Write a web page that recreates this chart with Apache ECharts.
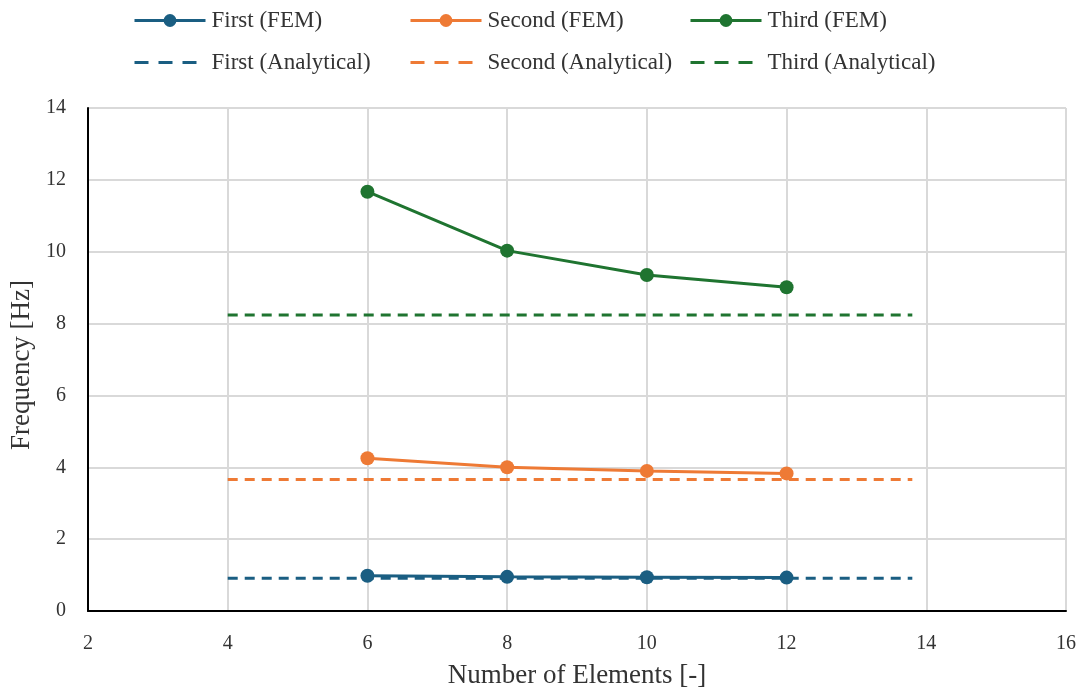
<!DOCTYPE html>
<html>
<head>
<meta charset="utf-8">
<script src="https://cdn.jsdelivr.net/npm/echarts@6/dist/echarts.min.js"></script>
<style>html,body{margin:0;padding:0;background:#fff}#c{width:1080px;height:690px}</style>
</head>
<body>
<div id="c"></div>
<script>
const elements = [6, 8, 10, 12];
const firstFEM = [0.98, 0.95, 0.94, 0.93];
const secondFEM = [4.25, 4.0, 3.9, 3.83];
const thirdFEM = [11.67, 10.03, 9.35, 9.01];
const analyticalX = [4, 13.8];
const firstAnalytical = 0.91;
const secondAnalytical = 3.66;
const thirdAnalytical = 8.24;
const xTicks = [2, 4, 6, 8, 10, 12, 14, 16];
const yTicks = [0, 2, 4, 6, 8, 10, 12, 14];

const cBlue = '#1a5e82', cOrange = '#ee7a35', cGreen = '#1f7430';
const font = 'Liberation Serif, Times New Roman, serif';

function fem(name, vals, color) {
  return {
    name, type: 'line', data: elements.map((x, i) => [x, vals[i]]),
    symbol: 'circle', symbolSize: 14, color,
    lineStyle: { width: 3, color }, itemStyle: { color }, z: 3
  };
}
function ana(name, v, color) {
  return {
    name, type: 'line', data: analyticalX.map(x => [x, v]),
    symbol: 'none', color,
    lineStyle: { width: 3, color, type: [10, 7] }, z: 2
  };
}
const legendNames = [
  ['First (FEM)', 133, 9, false], ['Second (FEM)', 409, 9, false], ['Third (FEM)', 689, 9, false],
  ['First (Analytical)', 133, 51, true], ['Second (Analytical)', 409, 51, true], ['Third (Analytical)', 689, 51, true]
];
const chart = echarts.init(document.getElementById('c'), null, { renderer: 'canvas' });
chart.setOption({
  animation: false,
  textStyle: { fontFamily: font },
  legend: legendNames.map(([n, l, t, dashed]) => ({
    data: [n], left: l, top: t, padding: 0, itemWidth: 71, itemHeight: 16, itemGap: 0,
    itemStyle: dashed ? { opacity: 0 } : {},
    lineStyle: dashed ? { type: [14, 10], width: 3 } : { width: 3 },
    textStyle: { fontFamily: font, fontSize: 23, color: '#333', padding: [0, 0, 0, 1] }
  })),
  grid: { left: 88, right: 14, top: 108, bottom: 79, outerBoundsMode: 'none', containLabel: false },
  xAxis: {
    type: 'value', min: xTicks[0], max: xTicks[xTicks.length - 1], interval: 2,
    name: 'Number of Elements [-]', nameLocation: 'middle', nameGap: 51,
    nameTextStyle: { fontFamily: font, fontSize: 27, color: '#333' },
    axisLine: { show: true, lineStyle: { color: '#000', width: 2 } },
    axisTick: { show: false },
    axisLabel: { fontFamily: font, fontSize: 20, color: '#333', margin: 23 },
    splitLine: { show: true, lineStyle: { color: '#d9d9d9', width: 2 } }
  },
  yAxis: {
    type: 'value', min: yTicks[0], max: yTicks[yTicks.length - 1], interval: 2,
    name: 'Frequency [Hz]', nameLocation: 'middle', nameGap: 49,
    nameTextStyle: { fontFamily: font, fontSize: 27, color: '#333', padding: [0, 11, 0, 0] },
    axisLine: { show: true, lineStyle: { color: '#000', width: 2 } },
    axisTick: { show: false },
    axisLabel: { fontFamily: font, fontSize: 20, color: '#333', margin: 22 },
    splitLine: { show: true, lineStyle: { color: '#d9d9d9', width: 2 } }
  },
  series: [
    fem('First (FEM)', firstFEM, cBlue),
    fem('Second (FEM)', secondFEM, cOrange),
    fem('Third (FEM)', thirdFEM, cGreen),
    ana('First (Analytical)', firstAnalytical, cBlue),
    ana('Second (Analytical)', secondAnalytical, cOrange),
    ana('Third (Analytical)', thirdAnalytical, cGreen)
  ]
});
</script>
</body>
</html>
